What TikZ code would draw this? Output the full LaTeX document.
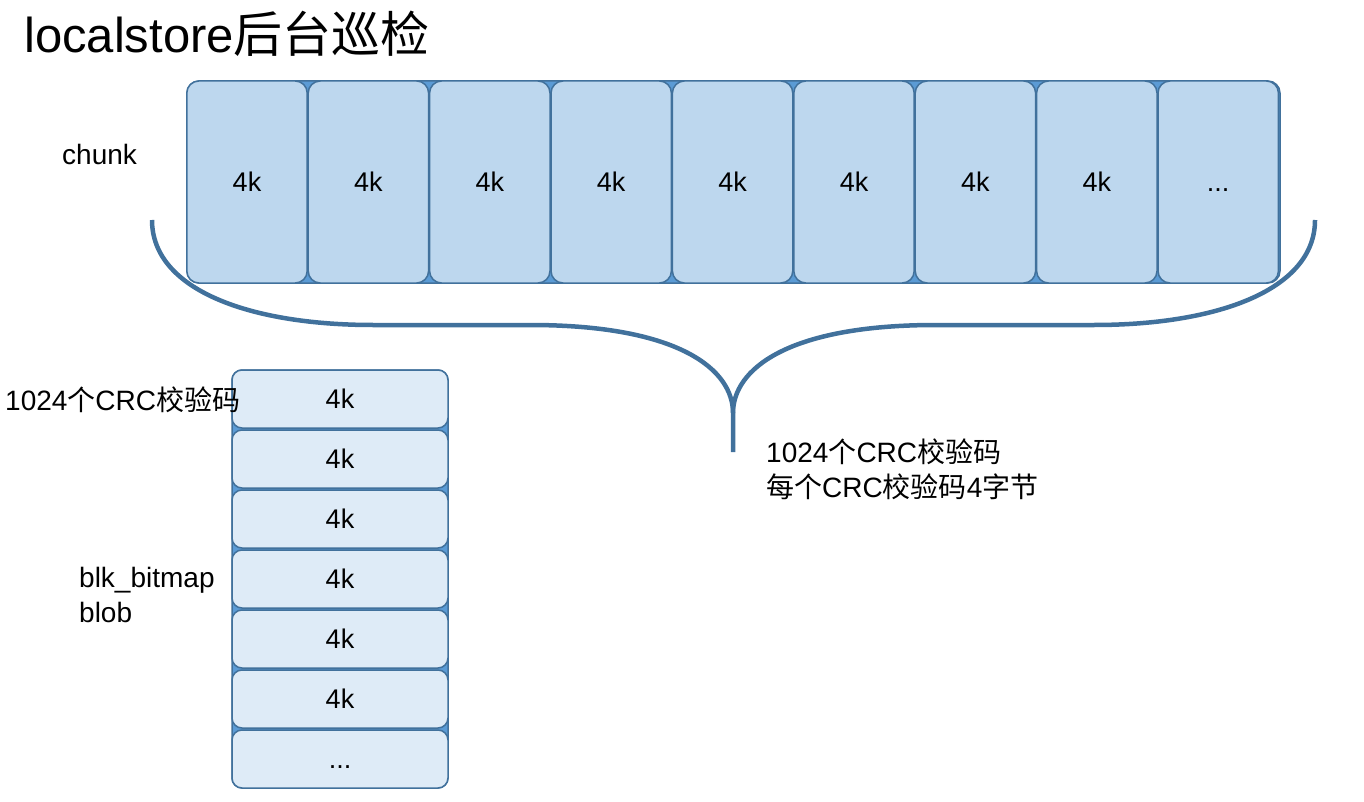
\documentclass[tikz,border=0pt]{standalone}
\usepackage{fontspec}
\setmainfont{Liberation Sans}
\newfontfamily\cjk{Noto Sans CJK SC}
\newcommand{\zh}[1]{{\cjk #1}}
\usetikzlibrary{positioning}
\definecolor{blockline}{HTML}{41719C}
\definecolor{chunkfill}{HTML}{BDD7EE}
\definecolor{bitmapfill}{HTML}{DEEBF7}
\definecolor{gapfill}{HTML}{5B9BD5}

\begin{document}
\begin{tikzpicture}[x=1pt,y=-1pt,
			chunkbox/.style={draw=blockline,fill=chunkfill,line width=1.5pt,rounded corners=12pt,
				minimum width=120.4pt,minimum height=202pt,inner sep=0pt,outer sep=0pt,
				font=\fontsize{27}{30}\selectfont},
			bitbox/.style={draw=blockline,fill=bitmapfill,line width=1.5pt,rounded corners=10pt,
				minimum width=216pt,minimum height=58pt,inner sep=0pt,outer sep=0pt,
				font=\fontsize{27}{30}\selectfont},
			txt/.style={anchor=base west,inner sep=0pt,align=left,
				font=\fontsize{28}{35}\selectfont},
			brace/.style={draw=blockline,line width=4.5pt}]
			\useasboundingbox (0,0) rectangle (1364,802);
			\node[txt,font=\fontsize{49}{56}\selectfont] (title) at (24,53) {localstore\zh{后台巡检}};
			% chunk row
			\filldraw[fill=gapfill,draw=blockline,line width=1.5pt,rounded corners=12pt] (187,81) rectangle (1280,283);
			\node[chunkbox] (c1) at (247,182) {4k};
			\node[chunkbox,right=1pt of c1] (c2) {4k};
			\node[chunkbox,right=1pt of c2] (c3) {4k};
			\node[chunkbox,right=1pt of c3] (c4) {4k};
			\node[chunkbox,right=1pt of c4] (c5) {4k};
			\node[chunkbox,right=1pt of c5] (c6) {4k};
			\node[chunkbox,right=1pt of c6] (c7) {4k};
			\node[chunkbox,right=1pt of c7] (c8) {4k};
			\node[chunkbox,right=1pt of c8] (c9) {\vphantom{4k}...};
			\node[txt] (chunk) at (62,165) {chunk};
			% brace under the chunk
			\draw[brace] (152,220) .. controls (152,290) and (250,325) .. (373,325)
				-- (530,325) .. controls (680,325) and (733,370) .. (733,413) -- (733,452);
			\draw[brace] (733,413) .. controls (733,370) and (786,325) .. (936,325)
				-- (1094,325) .. controls (1217,325) and (1315,290) .. (1315,220);
			\node[txt] (crcnote) at (766,497) {1024\zh{个}CRC\zh{校验码}\\\zh{每个}CRC\zh{校验码}4\zh{字节}};
			% blk_bitmap blob
			\filldraw[fill=gapfill,draw=blockline,line width=1.5pt,rounded corners=10pt] (232,370) rectangle (448,788);
			\node[bitbox] (b1) at (340,399) {4k};
			\node[bitbox,below=2pt of b1] (b2) {4k};
			\node[bitbox,below=2pt of b2] (b3) {4k};
			\node[bitbox,below=2pt of b3] (b4) {4k};
			\node[bitbox,below=2pt of b4] (b5) {4k};
			\node[bitbox,below=2pt of b5] (b6) {4k};
			\node[bitbox,below=2pt of b6] (b7) {\vphantom{4k}...};
			\node[txt] (crcleft) at (5,410) {1024\zh{个}CRC\zh{校验码}};
			\node[txt] (blob) at (79,622) {blk\_bitmap\\blob};
\end{tikzpicture}
\end{document}
